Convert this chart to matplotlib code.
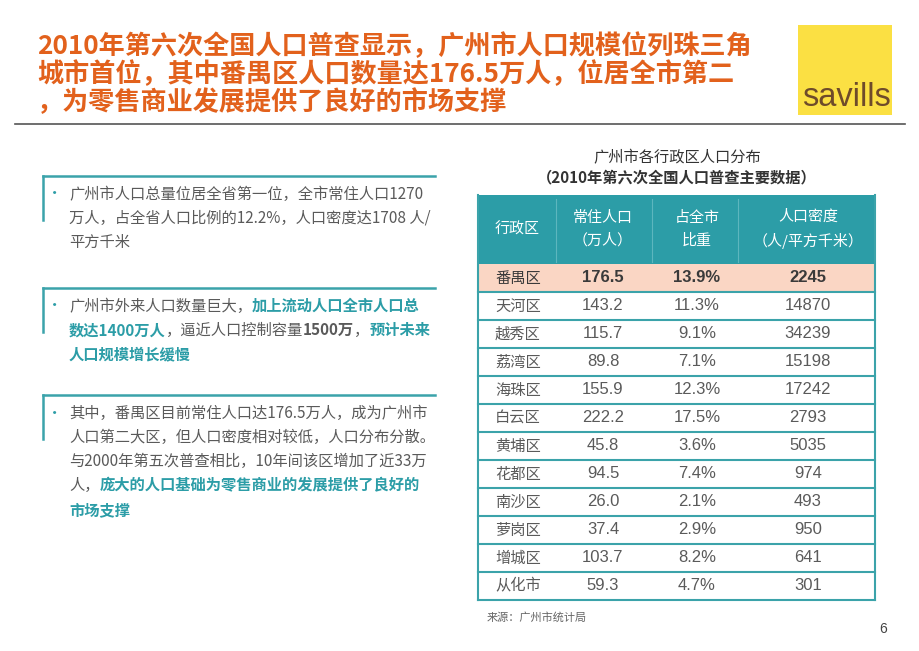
import matplotlib
matplotlib.use("Agg")
import matplotlib.pyplot as plt
from matplotlib.patches import Rectangle

plt.rcParams['font.family'] = ['Noto Sans CJK SC', 'DejaVu Sans']

# ============================================================================
# DATA
# ============================================================================

title_lines = [
    "2010年第六次全国人口普查显示，广州市人口规模位列珠三角",
    "城市首位，其中番禺区人口数量达176.5万人，位居全市第二",
    "，为零售商业发展提供了良好的市场支撑",
]

table_title = "广州市各行政区人口分布"
table_subtitle = "（2010年第六次全国人口普查主要数据）"
headers = ["行政区", "常住人口\n（万人）", "占全市\n比重", "人口密度\n（人/平方千米）"]

districts = ["番禺区", "天河区", "越秀区", "荔湾区", "海珠区", "白云区",
             "黄埔区", "花都区", "南沙区", "萝岗区", "增城区", "从化市"]
population = ["176.5", "143.2", "115.7", "89.8", "155.9", "222.2",
              "45.8", "94.5", "26.0", "37.4", "103.7", "59.3"]
share = ["13.9%", "11.3%", "9.1%", "7.1%", "12.3%", "17.5%",
         "3.6%", "7.4%", "2.1%", "2.9%", "8.2%", "4.7%"]
density = ["2245", "14870", "34239", "15198", "17242", "2793",
           "5035", "974", "493", "950", "641", "301"]
highlight = "番禺区"

source_note = "来源：广州市统计局"

# bullet text: each line is a list of (text, style) runs
# style: 'n' normal gray, 'b' bold gray, 't' teal bold
bullets = [
    [
        [("广州市人口总量位居全省第一位，全市常住人口1270", 'n')],
        [("万人，占全省人口比例的12.2%，人口密度达1708 人/", 'n')],
        [("平方千米", 'n')],
    ],
    [
        [("广州市外来人口数量巨大，", 'n'), ("加上流动人口全市人口总", 't')],
        [("数达1400万人", 't'), ("，逼近人口控制容量", 'n'), ("1500万", 'b'),
         ("，", 'n'), ("预计未来", 't')],
        [("人口规模增长缓慢", 't')],
    ],
    [
        [("其中，番禺区目前常住人口达176.5万人，成为广州市", 'n')],
        [("人口第二大区，但人口密度相对较低，人口分布分散。", 'n')],
        [("与2000年第五次普查相比，10年间该区增加了近33万", 'n')],
        [("人，", 'n'), ("庞大的人口基础为零售商业的发展提供了良好的", 't')],
        [("市场支撑", 't')],
    ],
]

# ============================================================================
# STYLE
# ============================================================================

ORANGE = '#E2611C'
TEAL = '#2C9DA7'
TEAL_LINE = '#3BA3AA'
GRAY = '#5A5A5A'
PEACH = '#FAD6C4'

fig = plt.figure(figsize=(9.2, 6.51), dpi=100)
ax = fig.add_axes([0, 0, 1, 1])
ax.set_xlim(0, 920)
ax.set_ylim(651, 0)
ax.axis('off')
renderer = fig.canvas.get_renderer()

# ============================================================================
# HEADER
# ============================================================================

for i, line in enumerate(title_lines):
    ax.text(37, 47 + i * 28.0, line, fontsize=18.8, fontweight='bold',
            color=ORANGE, va='center', ha='left')

ax.plot([15, 905], [124, 124], color='#555555', lw=1.2)

ax.add_patch(Rectangle((798, 25), 94, 90, color='#FBE043', lw=0))
ax.text(846, 98, "savills", fontsize=23.5, color='#6E4B2A', ha='center',
        va='center', family='Liberation Sans')

# ============================================================================
# LEFT BULLETS
# ============================================================================

def draw_runs(x, y, runs, size=11):
    for txt, style in runs:
        color = TEAL if style == 't' else GRAY
        weight = 'bold' if style in ('t', 'b') else 'normal'
        t = ax.text(x, y, txt, fontsize=size, color=color, fontweight=weight,
                    va='center', ha='left')
        bb = t.get_window_extent(renderer)
        x += bb.width

box_tops = [176, 288, 395]
for top, lines in zip(box_tops, bullets):
    ax.plot([43, 435], [top, top], color=TEAL_LINE, lw=1.8)
    ax.plot([43, 43], [top, top + 44], color=TEAL_LINE, lw=1.8)
    ax.text(55, top + 18, "•", fontsize=11, color=TEAL, va='center', ha='center')
    for j, runs in enumerate(lines):
        draw_runs(69, top + 18 + j * 24.2, runs)

# ============================================================================
# TABLE
# ============================================================================

ax.text(677, 158, table_title, fontsize=11, color='#333333', ha='center', va='center')
ax.text(677, 177, table_subtitle, fontsize=11, color='#333333', ha='center',
        va='center', fontweight='bold')

left, right = 478, 875
head_top, head_bot = 195, 264
row_h = 28.0
col_x = [517, 603, 697, 808]

ax.add_patch(Rectangle((left, head_top), right - left, head_bot - head_top,
                       color=TEAL, lw=0))
for xs in [556, 652, 738]:
    ax.plot([xs, xs], [head_top + 4, head_bot - 2], color='#5DB6BE', lw=0.8)
for c, h in zip(col_x, headers):
    ax.text(c, (head_top + head_bot) / 2, h, fontsize=10.8, color='white',
            ha='center', va='center', linespacing=1.75)

for i, name in enumerate(districts):
    y0 = head_bot + i * row_h
    yc = y0 + row_h / 2
    is_hi = name == highlight
    if is_hi:
        ax.add_patch(Rectangle((left, y0), right - left, row_h, color=PEACH, lw=0))
    w = 'bold' if is_hi else 'normal'
    col = '#3A3A3A' if is_hi else GRAY
    ax.text(495, yc, name, fontsize=11, color=col, ha='left', va='center')
    ax.text(col_x[1], yc, population[i], fontsize=12, color=col, ha='center',
            va='center', fontweight=w, family='Liberation Sans')
    ax.text(col_x[2], yc, share[i], fontsize=12, color=col, ha='center',
            va='center', fontweight=w, family='Liberation Sans')
    ax.text(col_x[3], yc, density[i], fontsize=12, color=col, ha='center',
            va='center', fontweight=w, family='Liberation Sans')
    ax.plot([left, right], [y0 + row_h, y0 + row_h], color=TEAL_LINE, lw=1.5)

bottom = head_bot + len(districts) * row_h
ax.plot([left, left], [head_top, bottom], color=TEAL_LINE, lw=1.5)
ax.plot([right, right], [head_top, bottom], color=TEAL_LINE, lw=1.5)

ax.text(487, 617, source_note, fontsize=8, color='#666666', ha='left', va='center')
ax.text(883, 629, "6", fontsize=10, color='#444444', ha='center', va='center',
        family='Liberation Sans')

plt.savefig('out.png', dpi=100)
